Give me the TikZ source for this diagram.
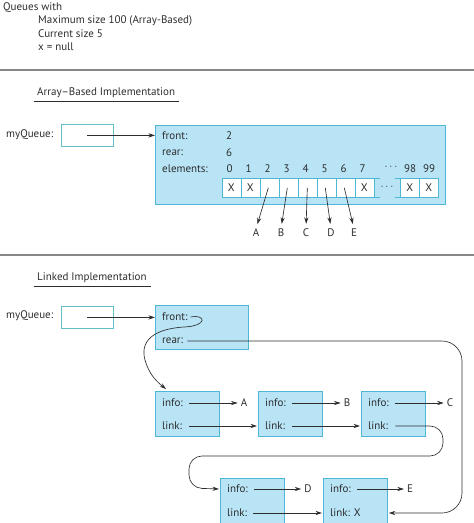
\documentclass[tikz,border=0pt]{standalone}
\usepackage{fontspec}
\setmainfont{PT Sans}
\usetikzlibrary{arrows.meta}
\definecolor{boxfill}{RGB}{184,228,246}
\definecolor{boxline}{RGB}{78,183,214}
\definecolor{ptrline}{RGB}{100,192,200}
\definecolor{inkc}{RGB}{45,45,45}
\definecolor{sepc}{RGB}{135,135,135}
\begin{document}
\begin{tikzpicture}[x=1pt,y=-1pt,
  txt/.style={anchor=west,inner sep=0pt,font=\fontsize{11}{13}\selectfont,text=inkc},
  ctxt/.style={anchor=center,inner sep=0pt,font=\fontsize{11}{13}\selectfont,text=inkc},
  bluebox/.style={draw=boxline,fill=boxfill,line width=0.8pt,anchor=north west,inner sep=0pt},
  ptrbox/.style={draw=ptrline,fill=white,line width=0.8pt,anchor=north west,minimum width=52pt,minimum height=22pt,inner sep=0pt},
  cellbox/.style={draw=boxline,fill=white,line width=0.6pt,anchor=north west,minimum width=19pt,minimum height=19pt,inner sep=0pt,font=\fontsize{11}{13}\selectfont,text=inkc},
  lnode/.style={bluebox,minimum width=64pt,minimum height=45pt},
  arr/.style={-{Stealth[length=6.5pt,width=4.2pt]},line width=0.65pt,draw=inkc},
  sepline/.style={draw=sepc,line width=1.3pt},
  uline/.style={draw=inkc,line width=0.6pt}]
\useasboundingbox (0,0) rectangle (474,523);

% header
\node[txt] (h1) at (3,8) {Queues with};
\node[txt] (h2) at (38,21) {Maximum size 100 (Array-Based)};
\node[txt] (h3) at (38,34) {Current size 5};
\node[txt] (h4) at (38,47) {x = null};
\draw[sepline] (0,70) -- (474,70);

% array-based
\node[txt] (t1) at (37,93) {Array–Based Implementation};
\draw[uline] (34,101) -- (179,101);
\node[txt] (mq1) at (6,135) {myQueue:};
\node[ptrbox] (p1) at (61,124) {};
\node[bluebox,minimum width=290pt,minimum height=79pt] (ab) at (155,125) {};
\draw[arr] (p1.center) -- (ab.west |- p1.center);
\node[txt] (fl) at (162,136) {front:};
\node[ctxt] (fv) at (229,136) {2};
\node[txt] (rl) at (162,153) {rear:};
\node[ctxt] (rv) at (229,153) {6};
\node[txt] (el) at (162,169) {elements:};
\foreach \i/\t in {0/X,1/X,2/,3/,4/,5/,6/,7/X}{
  \node[cellbox] (c\i) at (221.5+19*\i,178) {\t};
  \node[ctxt] (ix\i) at (229.5+19*\i,169) {\i};
}
\node[cellbox] (c98) at (400,178) {X};
\node[cellbox] (c99) at (419,178) {X};
\node[ctxt] (ix98) at (410,169) {98};
\node[ctxt] (ix99) at (429,169) {99};
\node[ctxt] (dt1) at (391,167) {$\cdots$};
\node[ctxt] (dt2) at (387,187) {$\cdots$};
\draw[boxline,line width=0.6pt] (c7.north east) -- ++(6,0) (c7.south east) -- ++(6,0)
  (c98.north west) -- ++(-5,0) (c98.south west) -- ++(-5,0);
\node[ctxt] (la) at (256,233) {A};
\node[ctxt] (lb) at (281,233) {B};
\node[ctxt] (lc) at (306,233) {C};
\node[ctxt] (ld) at (331,233) {D};
\node[ctxt] (le) at (354,233) {E};
\draw[arr,shorten >=5pt] ([xshift=-1pt]c2.center) -- (la.north);
\draw[arr,shorten >=5pt] ([xshift=-1pt]c3.center) -- (lb.north);
\draw[arr,shorten >=5pt] (c4.center) -- (lc.north);
\draw[arr,shorten >=5pt] ([xshift=-1pt]c5.center) -- (ld.north);
\draw[arr,shorten >=5pt] ([xshift=-1pt]c6.center) -- (le.north);
\draw[sepline] (0,255) -- (474,255);

% linked
\node[txt] (t2) at (37,278) {Linked Implementation};
\draw[uline] (34,286) -- (151,286);
\node[txt] (mq2) at (6,316) {myQueue:};
\node[ptrbox] (p2) at (61,306) {};
\node[bluebox,minimum width=93pt,minimum height=44pt] (fr) at (155,305) {};
\draw[arr] (p2.center) -- (fr.west |- p2.center);
\node[txt] (frf) at (162,317) {front:};
\node[txt] (frr) at (162,341) {rear:};

\node[lnode] (n1) at (155,391) {};
\node[lnode] (n2) at (258,391) {};
\node[lnode] (n3) at (361,391) {};
\node[lnode] (n4) at (220,478) {};
\node[lnode] (n5) at (323,478) {};
\foreach \n in {n1,n2,n3}{
  \node[txt] (\n i) at ([xshift=7pt]\n.west |- 0,403) {info:};
  \node[txt] (\n l) at ([xshift=7pt]\n.west |- 0,426) {link:};
}
\node[txt] (n4i) at (227,489) {info:};
\node[txt] (n4l) at (227,513) {link:};
\node[txt] (n5i) at (330,489) {info:};
\node[txt] (n5l) at (330,513) {link: X};

\node[ctxt] (va) at (244,403) {A};
\node[ctxt] (vb) at (347,403) {B};
\node[ctxt] (vc) at (450,403) {C};
\node[ctxt] (vd) at (308,489) {D};
\node[ctxt] (ve) at (410,489) {E};

\draw[arr,shorten >=3pt] ([xshift=6pt]n1i.east) -- (va.west);
\draw[arr,shorten >=3pt] ([xshift=6pt]n2i.east) -- (vb.west);
\draw[arr,shorten >=3pt] ([xshift=6pt]n3i.east) -- (vc.west);
\draw[arr,shorten >=3pt] ([xshift=6pt]n4i.east) -- (vd.west);
\draw[arr,shorten >=3pt] ([xshift=6pt]n5i.east) -- (ve.west);
\draw[arr,shorten >=1pt] ([xshift=7pt]n1l.east) -- (n2.west |- n1l);
\draw[arr,shorten >=1pt] ([xshift=7pt]n2l.east) -- (n3.west |- n2l);
\draw[arr,shorten >=1pt] ([xshift=6pt]n4l.east) -- (n5.west |- n4l);
\draw[arr,rounded corners=13pt,shorten >=1pt] ([xshift=7pt]n3l.east) -| (443,456) -| (189,488) -- (n4.west |- n4i);
\draw[arr,rounded corners=20pt,shorten >=1pt] ([xshift=4pt]frr.east) -| (462,513) -- (n5.east |- n5l);
\draw[arr] ([xshift=3pt]frf.east) .. controls (206,314) and (208,326) .. (184,327)
  .. controls (152,329) and (140,342) .. (145,360)
  .. controls (149,374) and (156,381) .. (166,389);
\end{tikzpicture}
\end{document}
